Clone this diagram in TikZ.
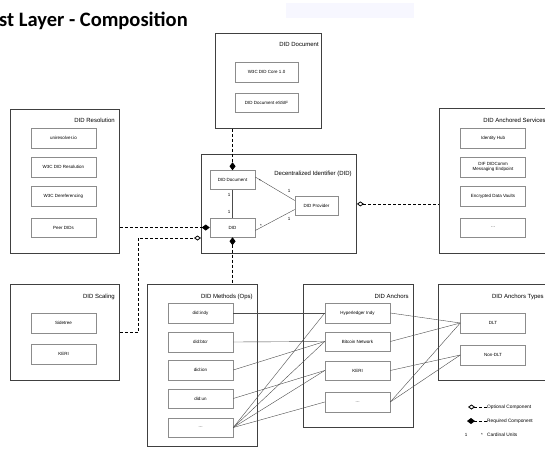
\documentclass[tikz,border=0pt]{standalone}
\usepackage{fontspec}
\setmainfont{Liberation Sans}
\newfontfamily\headfont{Carlito}
\usetikzlibrary{arrows.meta}

\begin{document}
\begin{tikzpicture}[x=1pt,y=-1pt,
	group/.style={draw=black!75,line width=0.9pt,anchor=north west,inner sep=0pt},
	grouptitle/.style={anchor=north east,inner sep=0pt,font=\fontsize{6}{7}\selectfont},
	item/.style={draw=black!45,line width=0.5pt,minimum width=65pt,minimum height=19.5pt,
		inner sep=0pt,align=center,font=\fontsize{4.5}{5.4}\selectfont},
	small/.style={item,minimum width=45pt,minimum height=19pt},
	link/.style={draw=black!70,line width=0.4pt},
	opt/.style={line width=0.8pt,dash pattern=on 3pt off 2pt},
	card/.style={inner sep=0pt,font=\fontsize{4.5}{4.5}\selectfont},
	legend/.style={anchor=west,inner sep=0pt,font=\fontsize{4.8}{5}\selectfont},
	reqtip/.tip={Diamond[length=8pt,width=6pt]},
	opttip/.tip={Diamond[open,length=7pt,width=5pt,fill=white]}]
	\useasboundingbox (0,0) rectangle (545,452);
	%title
	\fill[blue!3] (286,3) rectangle (414,18);
	\node[anchor=base west,inner sep=0pt,font=\headfont\bfseries\fontsize{20.5}{21}\selectfont] (title) at (-1,27) {st Layer - Composition};
	
	% groups
	\node[group,minimum width=106pt,minimum height=95pt] (docgrp) at (215,33) {};
	\node[grouptitle] at ([shift={(-3,9)}]docgrp.north east) {DID Document};
	\node[group,minimum width=109pt,minimum height=144pt] (res) at (10,109) {};
	\node[grouptitle] at ([shift={(-5,9)}]res.north east) {DID Resolution};
	\node[group,minimum width=111pt,minimum height=145pt] (svc) at (439,108) {};
	\node[grouptitle] at ([shift={(-5,10)}]svc.north east) {DID Anchored Services};
	\node[group,minimum width=155pt,minimum height=99pt] (didgrp) at (201,154) {};
	\node[grouptitle] at ([shift={(-5,17)}]didgrp.north east) {Decentralized Identifier (DID)};
	\node[group,minimum width=109pt,minimum height=96pt] (scal) at (10,284) {};
	\node[grouptitle] at ([shift={(-5,10)}]scal.north east) {DID Scaling};
	\node[group,minimum width=110pt,minimum height=162pt] (meth) at (147,284) {};
	\node[grouptitle] at ([shift={(-5,10)}]meth.north east) {DID Methods (Ops)};
	\node[group,minimum width=110pt,minimum height=143pt] (anc) at (303,284) {};
	\node[grouptitle] at ([shift={(-5,10)}]anc.north east) {DID Anchors};
	\node[group,minimum width=110pt,minimum height=96pt] (typ) at (438,284) {};
	\node[grouptitle] at ([shift={(-5,10)}]typ.north east) {DID Anchors Types};
	
	% items
	\node[item,minimum width=63pt] (core) at (266.5,72) {W3C DID Core 1.0};
	\node[item,minimum width=63pt] (essif) at (266.5,102.5) {DID Document eSSIF};
	\foreach \name/\y/\txt in {res1/138/uniresolver.io,res2/167/W3C DID Resolution,
		res3/196/W3C Dereferencing,res4/227.5/Peer DIDs}
		\node[item] (\name) at (63.5,\y) {\txt};
	\foreach \name/\y/\txt in {svc1/138/Identity Hub,svc2/167/{DIF DIDComm\\Messaging Endpoint},
		svc3/196/Encrypted Data Vaults,svc4/227.5/\ldots}
		\node[item] (\name) at (493,\y) {\txt};
	\node[item] (side) at (63.5,323) {Sidetree};
	\node[item] (keri) at (63.5,354) {KERI};
	\foreach \name/\y/\txt in {meth1/313/did:indy,meth2/342/did:btcr,meth3/370/did:ion,
		meth4/398.5/did:un,meth5/427.5/\ldots}
		\node[item] (\name) at (200.5,\y) {\txt};
	\foreach \name/\y/\txt in {anc1/313/Hyperledger Indy,anc2/341.5/Bitcoin Network,
		anc3/370.5/KERI,anc4/402/\ldots}
		\node[item] (\name) at (357.5,\y) {\txt};
	\node[item] (dlt) at (493,323) {DLT};
	\node[item] (ndlt) at (493,355) {Non-DLT};
	
	% DID core
	\node[small] (doc) at (232.5,180) {DID Document};
	\node[small] (did) at (232.5,227.5) {DID};
	\node[small,minimum width=43pt] (prov) at (316.5,205.5) {DID Provider};
	\draw[link] (doc) -- (did);
	\draw[link] ([yshift=3pt]doc.east) -- ([yshift=5pt]prov.west);
	\draw[link] ([yshift=-3pt]did.east) -- ([yshift=-4pt]prov.west);
	\node[card] at (229,195) {1};
	\node[card] at (229,212) {1};
	\node[card] at (260,181) {*};
	\node[card] at (289,191) {1};
	\node[card] at (261,226) {*};
	\node[card] at (289,219) {1};
	
	% dashed components
	\draw[opt,-reqtip] (doc.north |- docgrp.south) -- (doc.north);
	\draw[opt,-reqtip] (res.east |- did.west) -- (did.west);
	\coordinate (bend) at (138,238);
	\draw[opt,-opttip] (scal.east) -| (bend) -- (bend -| didgrp.west);
	\draw[opt,reqtip-] (did.south) -- (did.south |- meth.north);
	\draw[opt,opttip-] (didgrp.east) -- (didgrp.east -| svc.west);
	
	% methods to anchors
	\draw[link] (meth1.east) -- (anc1.west);
	\draw[link] (meth2.east) -- (anc2.west);
	\draw[link] (meth3.east) -- (anc2.west);
	\draw[link] (meth4.east) -- (anc3.west);
	\foreach \a in {anc1,anc2,anc3,anc4}
		\draw[link] (meth5.east) -- (\a.west);
	% anchors to types
	\draw[link] (anc1.east) -- (dlt.west);
	\draw[link] (anc2.east) -- (dlt.west);
	\draw[link] (anc3.east) -- (ndlt.west);
	\draw[link] (anc4.east) -- (dlt.west);
	\draw[link] (anc4.east) -- (ndlt.west);
	
	% legend
	\node[legend] (lopt) at (487,407) {Optional Component};
	\node[legend] (lreq) at (487,421) {Required Component};
	\node[legend] (lcard) at (487,435) {Cardinal Units};
	\coordinate (lo) at (468,407);
	\coordinate (lr) at (467,421);
	\draw[opt,opttip-] (lo) -- (lopt.west);
	\draw[opt,reqtip-] (lr) -- (lreq.west);
	\node[card] at (466,435) {1};
	\node[card] at (482,435) {*};
\end{tikzpicture}
\end{document}
